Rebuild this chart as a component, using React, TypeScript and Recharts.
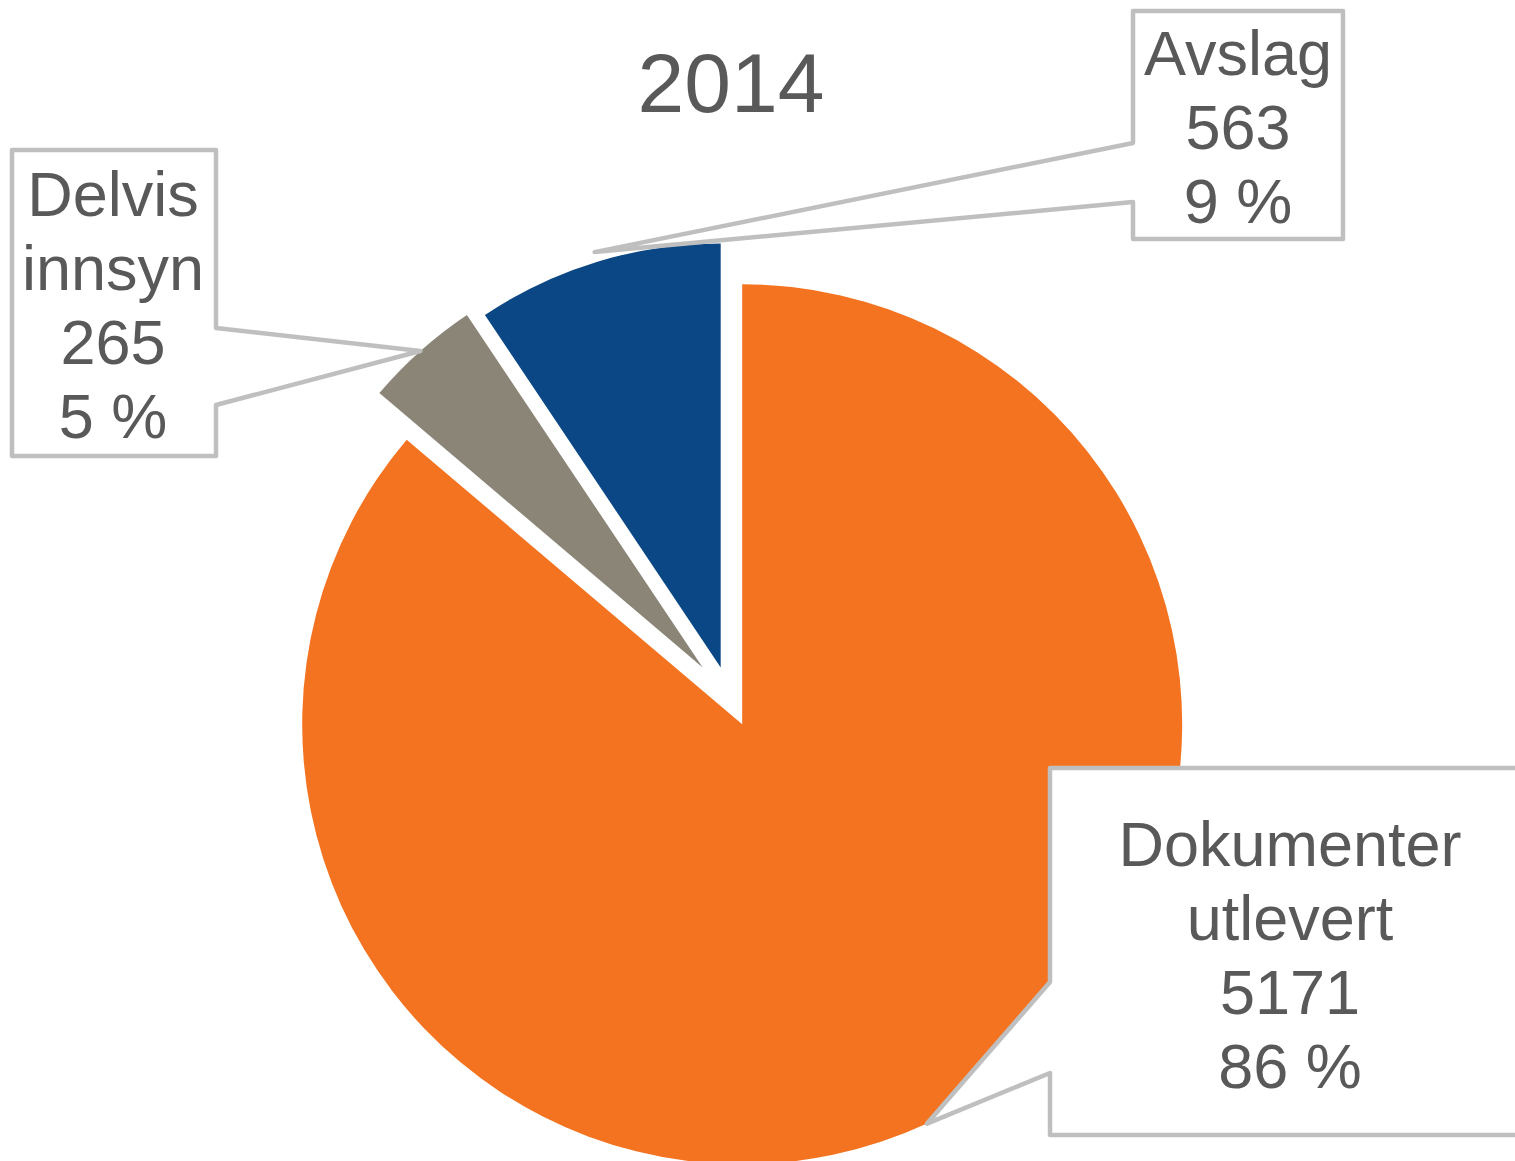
import { PieChart, Pie, Cell, Sector } from "recharts";

const title = "2014";
const categories = ["Dokumenter utlevert", "Delvis innsyn", "Avslag"];
const values = [5171, 265, 563];
const percentLabels = ["86 %", "5 %", "9 %"];

const data = categories.map((name, i) => ({ name, value: values[i] }));

const COLORS = ["#F37321", "#8B8578", "#0B4784"];
const TEXT = "#595959";
const BORDER = "#BFBFBF";
const FONT = "'Liberation Sans', Arial, sans-serif";

// per-slice explosion distance and radius
const EXPLODE = [29, 41, 32];
const RADIUS = [440, 424, 424];

// callout boxes: box rect, which side the pointer leaves from, pointer base y's, text anchor
const CALLOUTS = [
  { x1: 1050, y1: 768, x2: 1530, y2: 1135, side: "left", a: 982, b: 1073, tipPad: 0, tx: 1290, ty: 866 },
  { x1: 12, y1: 150, x2: 216, y2: 456, side: "right", a: 328, b: 405, tipPad: 0, tx: 113, ty: 216 },
  { x1: 1133, y1: 11, x2: 1343, y2: 239, side: "left", a: 143, b: 202, tipPad: 10, tx: 1238, ty: 75 },
];

const RAD = Math.PI / 180;

function idxOf(p: any): number {
  const n = p?.payload?.name ?? p?.name;
  const k = categories.indexOf(n);
  return k >= 0 ? k : p?.index ?? 0;
}

function shifted(cx: number, cy: number, mid: number, i: number): [number, number] {
  const d = EXPLODE[i];
  return [cx + d * Math.cos(-mid * RAD), cy + d * Math.sin(-mid * RAD)];
}

const renderSlice = (props: any) => {
  const i = idxOf(props);
  const [x, y] = shifted(props.cx, props.cy, props.midAngle, i);
  return <Sector {...props} cx={x} cy={y} innerRadius={0} outerRadius={RADIUS[i]} fill={COLORS[i]} stroke="none" />;
};

const renderLabel = (props: any) => {
  const i = idxOf(props);
  const c = CALLOUTS[i];
  const [x, y] = shifted(props.cx, props.cy, props.midAngle, i);
  const r = RADIUS[i] + c.tipPad;
  const tx = x + r * Math.cos(-props.midAngle * RAD);
  const ty = y + r * Math.sin(-props.midAngle * RAD);
  let d: string;
  if (c.side === "left") {
    d = `M${c.x1},${c.y1} L${c.x2},${c.y1} L${c.x2},${c.y2} L${c.x1},${c.y2} L${c.x1},${c.b} L${tx},${ty} L${c.x1},${c.a} Z`;
  } else {
    d = `M${c.x1},${c.y1} L${c.x2},${c.y1} L${c.x2},${c.a} L${tx},${ty} L${c.x2},${c.b} L${c.x2},${c.y2} L${c.x1},${c.y2} Z`;
  }
  const lines = [...categories[i].split(" "), String(values[i]), percentLabels[i]];
  return (
    <g key={`callout-${i}`}>
      <path d={d} fill="#fff" stroke={BORDER} strokeWidth={4.5} strokeLinejoin="round" />
      <text textAnchor="middle" fill={TEXT} fontSize={63} fontFamily={FONT}>
        {lines.map((l, k) => (
          <tspan key={k} x={c.tx} y={c.ty + k * 74}>
            {l}
          </tspan>
        ))}
      </text>
    </g>
  );
};

export default function App() {
  return (
    <div style={{ position: "absolute", left: 0, top: 0, width: 1515, height: 1161, background: "#fff" }}>
      <PieChart width={1515} height={1161} margin={{ top: 0, right: 0, bottom: 0, left: 0 }}>
        <text x={731} y={112} textAnchor="middle" fill={TEXT} fontSize={84} fontFamily={FONT}>
          {title}
        </text>
        <Pie
          data={data}
          dataKey="value"
          nameKey="name"
          cx={730}
          cy={698}
          outerRadius={440}
          startAngle={90}
          endAngle={-270}
          stroke="none"
          labelLine={false}
          label={renderLabel}
          shape={renderSlice}
          isAnimationActive={false}
        >
          {data.map((d, i) => (
            <Cell key={d.name} fill={COLORS[i]} />
          ))}
        </Pie>
      </PieChart>
    </div>
  );
}
